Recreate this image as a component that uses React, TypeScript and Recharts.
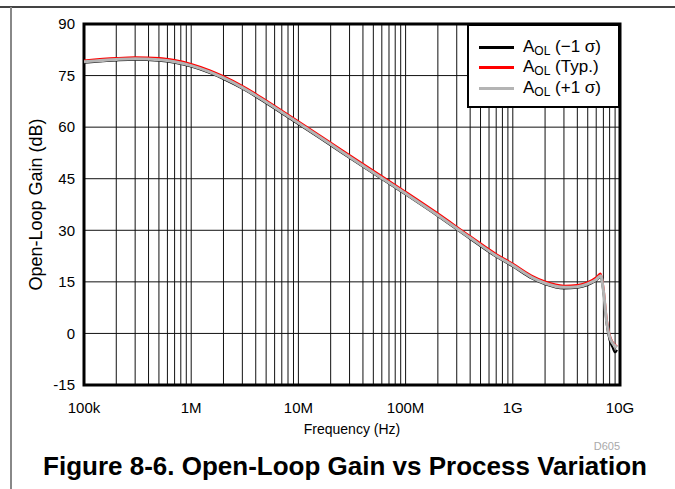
import { CartesianGrid, Label, Legend, Line, LineChart, ReferenceArea, XAxis, YAxis } from "recharts";

const FONT = '"Liberation Sans", Arial, sans-serif';

// frequency (Hz) of each sample
const freqs = [
  1e5, 2e5, 3e5, 5e5, 7e5, 1e6, 1.5e6, 2e6, 3e6, 4e6, 6e6, 1e7, 2e7, 4e7, 1e8, 2e8, 4e8, 7e8,
  1e9, 1.5e9, 2e9, 3e9, 4e9, 5e9, 6e9, 6.6e9, 7e9, 7.5e9, 8e9, 8.5e9, 9e9, 9.4e9,
];

// open-loop gain (dB)
const aolMinus = [
  78.7, 79.4, 79.6, 79.3, 78.7, 77.6, 75.7, 74.0, 71.2, 68.9, 65.4, 60.9, 54.7, 48.5, 40.4, 34.1, 27.5, 22.3,
  19.5, 16.0, 14.3, 13.1, 13.3, 14.1, 15.4, 16.5, 12.0, 2.8, -2.0, -4.0, -5.5, -4.8,
];
const aolTyp = [
  79.4, 80.1, 80.3, 80.1, 79.5, 78.4, 76.5, 74.8, 72.0, 69.7, 66.2, 61.7, 55.5, 49.3, 41.2, 34.9, 28.3, 23.1,
  20.3, 16.8, 15.1, 13.9, 14.1, 14.9, 16.3, 17.4, 13.5, 4.5, -0.4, -2.4, -3.3, -3.8,
];
const aolPlus = [
  79.0, 79.7, 79.9, 79.6, 79.0, 77.9, 76.0, 74.3, 71.5, 69.2, 65.7, 61.2, 55.0, 48.8, 40.7, 34.4, 27.8, 22.6,
  19.8, 16.3, 14.6, 13.4, 13.6, 14.4, 15.7, 16.8, 12.5, 3.5, -1.0, -2.8, -3.6, -4.0,
];

const xTicks = [1e5, 1e6, 1e7, 1e8, 1e9, 1e10];
const xTickLabels = ["100k", "1M", "10M", "100M", "1G", "10G"];
const decadeSteps = [1, 2, 3, 4, 5, 6, 7, 8, 9];
const yTicks = [-15, 0, 15, 30, 45, 60, 75, 90];

const seriesKeys = ["minus", "typ", "plus"];
const seriesSuffix = ["(\u22121 \u03c3)", "(Typ.)", "(+1 \u03c3)"];
const seriesColors = ["#000000", "#ff0000", "#b4b4b4"];

const rows = freqs.map((f, i) => ({ f, minus: aolMinus[i], typ: aolTyp[i], plus: aolPlus[i] }));

const gridTicks: number[] = [];
xTicks.slice(0, -1).forEach((d) => decadeSteps.forEach((m) => gridTicks.push(d * m)));
gridTicks.push(xTicks[xTicks.length - 1]);

function fmtX(v: number) {
  const i = xTicks.indexOf(v);
  return i >= 0 ? xTickLabels[i] : "";
}

function LegendBox() {
  return (
    <div
      style={{
        boxSizing: "border-box",
        width: 153,
        height: 84,
        background: "#fff",
        border: "2px solid #000",
        paddingTop: 11,
        fontFamily: FONT,
        fontSize: 17,
        color: "#000",
      }}
    >
      {seriesKeys.map((k, i) => (
        <div key={k} style={{ display: "flex", alignItems: "center", height: 20.5 }}>
          <span
            style={{
              display: "inline-block",
              marginLeft: 10,
              width: 35,
              height: 3,
              background: seriesColors[i],
            }}
          />
          <span style={{ marginLeft: 9, whiteSpace: "nowrap" }}>
            A<sub style={{ fontSize: 12, verticalAlign: "-3px" }}>OL</sub> {seriesSuffix[i]}
          </span>
        </div>
      ))}
    </div>
  );
}

function YLabel(props: any) {
  const vb = props.viewBox;
  const cx = vb.x + 16;
  const cy = vb.y + vb.height / 2;
  return (
    <text
      x={cx}
      y={cy}
      transform={`rotate(-90 ${cx} ${cy})`}
      textAnchor="middle"
      dominantBaseline="central"
      fontSize={18}
      fontFamily={FONT}
      fill="#000"
    >
      Open-Loop Gain (dB)
    </text>
  );
}

export default function App() {
  return (
    <div style={{ position: "absolute", left: 0, top: 0, width: 675, height: 489, background: "#fff", fontFamily: FONT }}>
      <div style={{ position: "absolute", left: 0, top: 6, width: 675, height: 2, background: "#444" }} />
      <div style={{ position: "absolute", left: 10, top: 7, width: 2, height: 482, background: "#888" }} />
      <div style={{ position: "absolute", left: 0, top: 0 }}>
        <LineChart width={675} height={489} data={rows} margin={{ top: 24, right: 55, bottom: 74, left: 20 }}>
          <CartesianGrid stroke="#111" strokeWidth={1} />
          <XAxis
            dataKey="f"
            type="number"
            scale="log"
            domain={[1e5, 1e10]}
            ticks={gridTicks}
            interval={0}
            tickFormatter={fmtX}
            allowDataOverflow
            axisLine={false}
            tickLine={false}
            tickSize={0}
            tickMargin={17}
            height={30}
            tick={{ fill: "#000", fontSize: 15, fontFamily: FONT }}
          >
            <Label value="Frequency (Hz)" position="bottom" offset={9} fill="#000" fontSize={14} fontFamily={FONT} />
          </XAxis>
          <YAxis
            type="number"
            domain={[-15, 90]}
            ticks={yTicks}
            interval={0}
            axisLine={false}
            tickLine={false}
            tickSize={0}
            tickMargin={9}
            width={64}
            tick={{ fill: "#000", fontSize: 15, fontFamily: FONT }}
          >
            <Label content={YLabel} />
          </YAxis>
          <ReferenceArea x1={1e5} x2={1e10} y1={-15} y2={90} fill="none" stroke="#000" strokeWidth={3} />
          <Line type="monotone" dataKey="minus" stroke={seriesColors[0]} strokeWidth={2} dot={false} isAnimationActive={false} />
          <Line type="monotone" dataKey="typ" stroke={seriesColors[1]} strokeWidth={2} dot={false} isAnimationActive={false} />
          <Line type="monotone" dataKey="plus" stroke={seriesColors[2]} strokeWidth={3} dot={false} isAnimationActive={false} />
          <Legend
            layout="vertical"
            align="center"
            verticalAlign="middle"
            content={LegendBox}
            wrapperStyle={{ left: 467, top: 24, width: 153, height: 84 }}
          />
        </LineChart>
      </div>
      <div style={{ position: "absolute", right: 55, top: 440, fontSize: 11, color: "#aaa" }}>D605</div>
      <div
        style={{
          position: "absolute",
          left: 0,
          width: 690,
          top: 451,
          textAlign: "center",
          fontSize: 26,
          fontWeight: "bold",
          color: "#000",
        }}
      >
        Figure 8-6. Open-Loop Gain vs Process Variation
      </div>
    </div>
  );
}
